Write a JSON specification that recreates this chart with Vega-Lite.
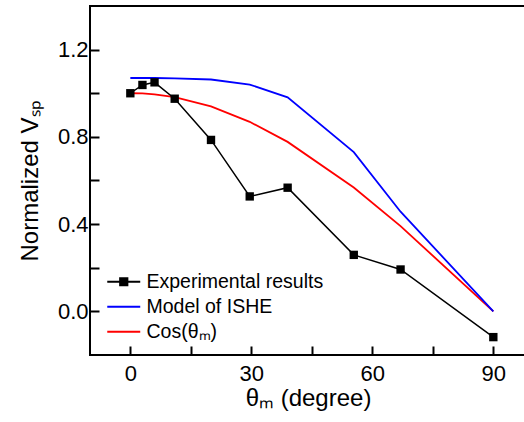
{
  "$schema": "https://vega.github.io/schema/vega-lite/v6.json",
  "width": 436,
  "height": 349,
  "autosize": "none",
  "padding": {"left": 90, "top": 6, "right": 0, "bottom": 67},
  "background": "white",
  "config": {
    "view": {"stroke": "black", "strokeWidth": 2},
    "font": "Liberation Sans"
  },
  "data": {
    "values": [
      {"s": "Experimental results", "theta": 0, "v": 1.0},
      {"s": "Experimental results", "theta": 3, "v": 1.038},
      {"s": "Experimental results", "theta": 6, "v": 1.05},
      {"s": "Experimental results", "theta": 11, "v": 0.975},
      {"s": "Experimental results", "theta": 20, "v": 0.786},
      {"s": "Experimental results", "theta": 29.6, "v": 0.527},
      {"s": "Experimental results", "theta": 39, "v": 0.567},
      {"s": "Experimental results", "theta": 55.4, "v": 0.259},
      {"s": "Experimental results", "theta": 67, "v": 0.192},
      {"s": "Experimental results", "theta": 90, "v": -0.118},
      {"s": "Model of ISHE", "theta": 0, "v": 1.07},
      {"s": "Model of ISHE", "theta": 3, "v": 1.07},
      {"s": "Model of ISHE", "theta": 6, "v": 1.07},
      {"s": "Model of ISHE", "theta": 11, "v": 1.068},
      {"s": "Model of ISHE", "theta": 20, "v": 1.063},
      {"s": "Model of ISHE", "theta": 29.6, "v": 1.04},
      {"s": "Model of ISHE", "theta": 39, "v": 0.981},
      {"s": "Model of ISHE", "theta": 55.4, "v": 0.73},
      {"s": "Model of ISHE", "theta": 67, "v": 0.457},
      {"s": "Model of ISHE", "theta": 90, "v": 0.0},
      {"s": "Cos(θₘ)", "theta": 0, "v": 1.0},
      {"s": "Cos(θₘ)", "theta": 3, "v": 0.999},
      {"s": "Cos(θₘ)", "theta": 6, "v": 0.995},
      {"s": "Cos(θₘ)", "theta": 11, "v": 0.982},
      {"s": "Cos(θₘ)", "theta": 20, "v": 0.94},
      {"s": "Cos(θₘ)", "theta": 29.6, "v": 0.869},
      {"s": "Cos(θₘ)", "theta": 39, "v": 0.777},
      {"s": "Cos(θₘ)", "theta": 55.4, "v": 0.568},
      {"s": "Cos(θₘ)", "theta": 67, "v": 0.391},
      {"s": "Cos(θₘ)", "theta": 90, "v": 0.0}
    ]
  },
  "encoding": {
    "x": {
      "field": "theta", "type": "quantitative",
      "scale": {"domain": [-10, 98.1], "nice": false, "zero": false},
      "axis": {
        "orient": "bottom", "values": [0, 15, 30, 45, 60, 75, 90],
        "offset": -9, "tickSize": 9, "tickColor": "black", "tickWidth": 2, "ticks": true,
        "domain": false, "grid": false,
        "labelExpr": "datum.value % 30 == 0 ? datum.label : ''",
        "labelPadding": 8, "labelColor": "black", "labelFont": "Liberation Sans", "labelFontSize": 22,
        "title": "θₘ (degree)", "titlePadding": 2, "titleFont": "Liberation Sans", "titleFontSize": 24,
        "titleFontWeight": "normal", "titleColor": "black"
      }
    },
    "y": {
      "field": "v", "type": "quantitative",
      "scale": {"domain": [-0.2, 1.4], "nice": false, "zero": false},
      "axis": {
        "orient": "left", "values": [0, 0.2, 0.4, 0.6, 0.8, 1.0, 1.2],
        "offset": -9, "tickSize": 9, "tickColor": "black", "tickWidth": 2, "ticks": true,
        "domain": false, "grid": false,
        "labelExpr": "round(datum.value * 10) % 4 == 0 ? format(datum.value, '.1f') : ''",
        "labelPadding": 2, "labelColor": "black", "labelFont": "Liberation Sans", "labelFontSize": 22,
        "title": "Normalized Vₛₚ", "titlePadding": 15, "titleFont": "Liberation Sans", "titleFontSize": 24,
        "titleFontWeight": "normal", "titleColor": "black"
      }
    }
  },
  "layer": [
    {
      "transform": [{"filter": "datum.s == 'Cos(θₘ)'"}],
      "mark": {"type": "line", "strokeWidth": 1.8},
      "encoding": {
        "color": {
          "field": "s", "type": "nominal",
          "scale": {"domain": ["Experimental results", "Model of ISHE", "Cos(θₘ)"], "range": ["black", "#0000ff", "#ff0000"]},
          "legend": {
            "orient": "none", "legendX": 24, "legendY": 266, "title": null,
            "labelFont": "Liberation Sans", "labelFontSize": 19.5, "labelColor": "black", "labelLimit": 400,
            "labelOffset": 13, "symbolSize": 272, "symbolStrokeWidth": 1.8, "rowPadding": 4, "padding": 0,
            "encode": {
              "symbols": {
                "update": {
                  "shape": {"signal": "datum.value == 'Experimental results' ? 'M-2,0H2M-0.45,-0.45H0.45V0.45H-0.45Z' : 'M-2,0H2'"},
                  "fill": {"signal": "datum.value == 'Experimental results' ? 'black' : 'transparent'"}
                }
              }
            }
          }
        }
      }
    },
    {
      "transform": [{"filter": "datum.s == 'Model of ISHE'"}],
      "mark": {"type": "line", "strokeWidth": 1.8},
      "encoding": {
        "color": {"field": "s", "type": "nominal"}
      }
    },
    {
      "transform": [{"filter": "datum.s == 'Experimental results'"}],
      "mark": {"type": "line", "strokeWidth": 1.5},
      "encoding": {
        "color": {"field": "s", "type": "nominal"}
      }
    },
    {
      "transform": [{"filter": "datum.s == 'Experimental results'"}],
      "mark": {"type": "point", "shape": "square", "filled": true, "size": 70, "color": "black", "opacity": 1},
      "encoding": {}
    }
  ]
}
